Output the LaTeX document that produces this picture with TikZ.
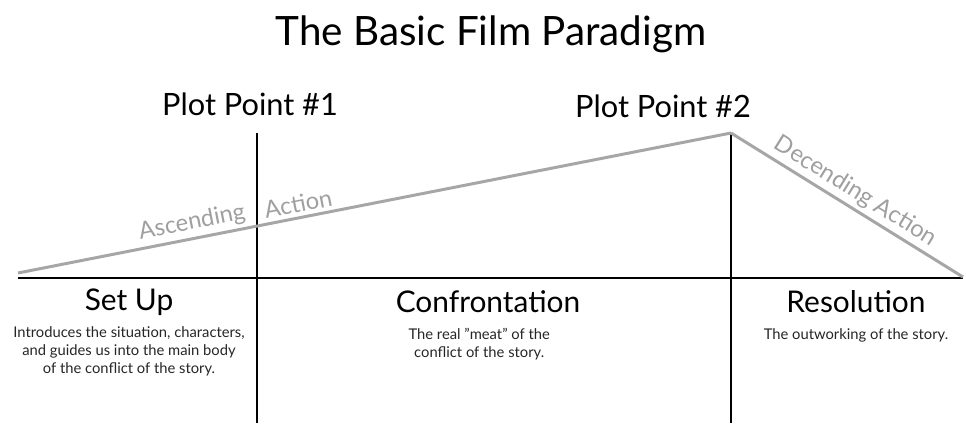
\documentclass[tikz,border=0pt]{standalone}
\usepackage{fontspec}
\setmainfont{Lato}
\usetikzlibrary{positioning}

\begin{document}
\begin{tikzpicture}[
		x=0.02cm, y=-0.02cm,
		heading/.style={font=\fontsize{23}{27}\selectfont, anchor=base},
		plotlabel/.style={font=\fontsize{17.5}{20}\selectfont, anchor=base},
		actlabel/.style={font=\fontsize{17}{20}\selectfont, anchor=base},
		actnote/.style={font=\fontsize{8.4}{10.4}\selectfont, align=center, text=black!85, inner sep=0pt},
		actionlabel/.style={font=\fontsize{13.5}{15}\selectfont, text=gray!75, inner sep=1pt},
		axisline/.style={line width=1.6pt, black},
		arcline/.style={line width=1.7pt, gray!70},
	]
		\useasboundingbox (0,0) rectangle (966,423);

		% Title
		\node[heading] (title) at (491,45) {The Basic Film Paradigm};

		% Key points of the story line
		\coordinate (start) at (18,273);
		\coordinate (peak) at (731,133);
		\coordinate (finish) at (963,277);

		% Act dividers
		\coordinate (axisleft) at (18,278);
		\coordinate (axisright) at (963,278);
		\coordinate (pptop1) at (257,133);
		\coordinate (ppbot1) at (257,423);
		\coordinate (pptop2) at (731,133);
		\coordinate (ppbot2) at (731,423);

		\draw[axisline] (axisleft) -- (axisright);
		\draw[axisline] (pptop1) -- (ppbot1);
		\draw[axisline] (pptop2) -- (ppbot2);

		% Rising and falling action
		\draw[arcline] (start) -- (peak)
			node[actionlabel, pos=0.327, sloped, anchor=south east, yshift=1pt] (ascend) {Ascending}
			node[actionlabel, pos=0.345, sloped, anchor=south west, yshift=1pt] (ascend2) {Action};
		\draw[arcline] (peak) -- (finish)
			node[actionlabel, pos=0.5, sloped, above=1pt] (descend) {Decending Action};

		% Plot points
		\node[plotlabel] (pp1) at (250,115) {Plot Point \#1};
		\node[plotlabel] (pp2) at (663,117) {Plot Point \#2};

		% Acts
		\node[actlabel] (setup) at (129,310) {Set Up};
		\node[actlabel] (confront) at (488,312) {Confrontation};
		\node[actlabel] (resolve) at (856,312) {Resolution};

		\node[actnote, below=9pt of setup.base] (setupnote) {Introduces the situation, characters,\\and guides us into the main body\\of the conflict of the story.};
		\node[actnote, below=9pt of confront.base, xshift=-5pt] (confrontnote) {The real "meat" of the\\conflict of the story.};
		\node[actnote, below=9pt of resolve.base] (resolvenote) {The outworking of the story.};
	\end{tikzpicture}
\end{document}
